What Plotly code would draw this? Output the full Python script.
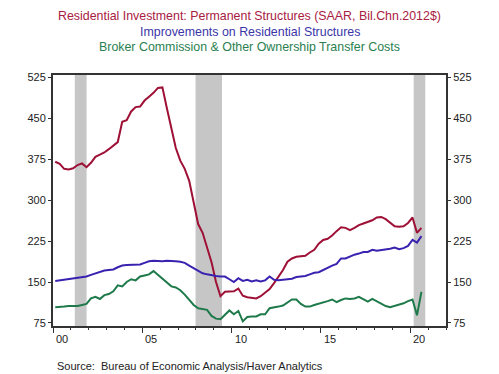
import plotly.graph_objects as go

# quarterly values 2000Q1 .. 2020Q3
permanent = [370, 366, 357, 356,
             358, 364, 367, 360,
             368, 379, 383, 387,
             393, 400, 406, 443,
             446, 462, 470, 471,
             482, 489, 496, 505,
             506, 468, 430, 395,
             372, 357, 335, 293,
             256, 240, 212, 186,
             150, 124, 132, 132,
             133, 138, 125, 122,
             121, 120, 124, 130,
             137, 148, 160, 172,
             187, 193, 196, 197,
             198, 204, 209, 220,
             227, 229, 235, 243,
             250, 249, 245, 249,
             254, 257, 260, 263,
             268, 269, 265, 258,
             252, 251, 252, 258,
             268, 240, 249]
improvements = [152, 153, 154, 155,
                156, 157, 158, 160,
                163, 166, 169, 171,
                172, 173, 177, 180,
                181, 181, 181, 182,
                185, 188, 189, 188,
                188, 189, 189, 188,
                187, 185, 180, 175,
                170, 166, 164, 162,
                161, 160, 160, 155,
                150, 157, 152, 154,
                151, 153, 151, 153,
                160, 154, 153, 154,
                155, 156, 159, 160,
                161, 164, 167, 168,
                172, 177, 180, 183,
                193, 193, 197, 200,
                202, 205, 205, 209,
                207, 208, 210, 211,
                213, 210, 212, 216,
                227, 222, 234]
broker = [104, 104, 105, 106,
          106, 106, 108, 110,
          120, 123, 119, 126,
          128, 133, 144, 142,
          150, 155, 153, 160,
          162, 164, 170, 163,
          155, 148, 142, 140,
          135, 127, 118, 108,
          102, 101, 99, 88,
          83, 82, 90, 98,
          91, 97, 78, 86,
          87, 87, 91, 91,
          102, 103, 105, 107,
          112, 118, 118, 110,
          105, 105, 108, 110,
          113, 115, 118, 113,
          117, 120, 119, 120,
          123, 118, 114, 119,
          115, 110, 106, 104,
          106, 109, 111, 115,
          118, 89, 132]
recessions = [(2001.22, 2001.88), (2007.98, 2009.46), (2020.19, 2020.84)]
y_ticks = [75, 150, 225, 300, 375, 450, 525]
x_major = [2000, 2005, 2010, 2015, 2020]
x_labels = ["00", "05", "10", "15", "20"]

n = len(permanent)
t = [2000 + 0.125 + 0.25 * i for i in range(n)]

RED = "#9E1035"
BLUE = "#3A22B0"
GREEN = "#1E7A4A"
FONT = "Liberation Sans, Arial, sans-serif"

fig = go.Figure()
fig.add_trace(go.Scatter(x=t, y=permanent, mode="lines", line=dict(color=RED, width=2), showlegend=False))
fig.add_trace(go.Scatter(x=t, y=improvements, mode="lines", line=dict(color=BLUE, width=2), showlegend=False))
fig.add_trace(go.Scatter(x=t, y=broker, mode="lines", line=dict(color=GREEN, width=2), showlegend=False))
fig.add_trace(go.Scatter(x=[None], y=[None], yaxis="y2", showlegend=False, hoverinfo="skip"))

for a, b in recessions:
    fig.add_shape(type="rect", xref="x", yref="paper", x0=a, x1=b, y0=0, y1=1,
                  fillcolor="#C6C6C6", line=dict(width=0), layer="below")

yr = [69.5, 528.7]
fig.update_layout(
    width=499, height=374,
    margin=dict(l=53, r=53, t=75, b=48),
    paper_bgcolor="white", plot_bgcolor="white",
    font=dict(family=FONT, size=11, color="#222222"),
    xaxis=dict(range=[2000, 2022], tickvals=x_major, showticklabels=False,
               ticks="outside", ticklen=5, tickcolor="#333333", tickwidth=1,
               minor=dict(dtick=1, tick0=2000, ticks="outside", ticklen=2, tickcolor="#333333"),
               showline=True, linecolor="#333333", linewidth=2, mirror=True,
               showgrid=False, zeroline=False),
    yaxis=dict(range=yr, tickvals=y_ticks, ticks="outside", ticklen=3, tickcolor="#333333",
               showline=True, linecolor="#333333", linewidth=2, showgrid=False, zeroline=False,
               tickfont=dict(size=11, color="#222222")),
    yaxis2=dict(range=yr, tickvals=y_ticks, ticks="outside", ticklen=3, tickcolor="#333333",
                overlaying="y", side="right", showline=True, linecolor="#333333", linewidth=2,
                showgrid=False, zeroline=False, tickfont=dict(size=11, color="#222222")),
)

for xv, lab in zip(x_major, x_labels):
    fig.add_annotation(x=xv + 0.5, y=0, xref="x", yref="paper", text=lab, showarrow=False,
                       yanchor="top", yshift=-5, font=dict(size=11, color="#222222"))

titles = [("Residential Investment: Permanent Structures (SAAR, Bil.Chn.2012$)", "#A8203F", 1.235),
          ("Improvements on Residential Structures", "#3B35A8", 1.171),
          ("Broker Commission & Other Ownership Transfer Costs", "#2A8050", 1.112)]
for txt, col, yp in titles:
    fig.add_annotation(x=0.5, y=yp, xref="paper", yref="paper", text=txt, showarrow=False,
                       xanchor="center", yanchor="middle", font=dict(size=12.4, color=col))

fig.add_annotation(x=0.004, y=-0.159, xref="paper", yref="paper",
                   text="Source:  Bureau of Economic Analysis/Haver Analytics", showarrow=False,
                   xanchor="left", yanchor="middle", font=dict(size=11, color="#222222"))

fig.write_html("out.html", config={"displayModeBar": False},
               post_script="document.body.style.margin='0';document.body.style.padding='0';")
